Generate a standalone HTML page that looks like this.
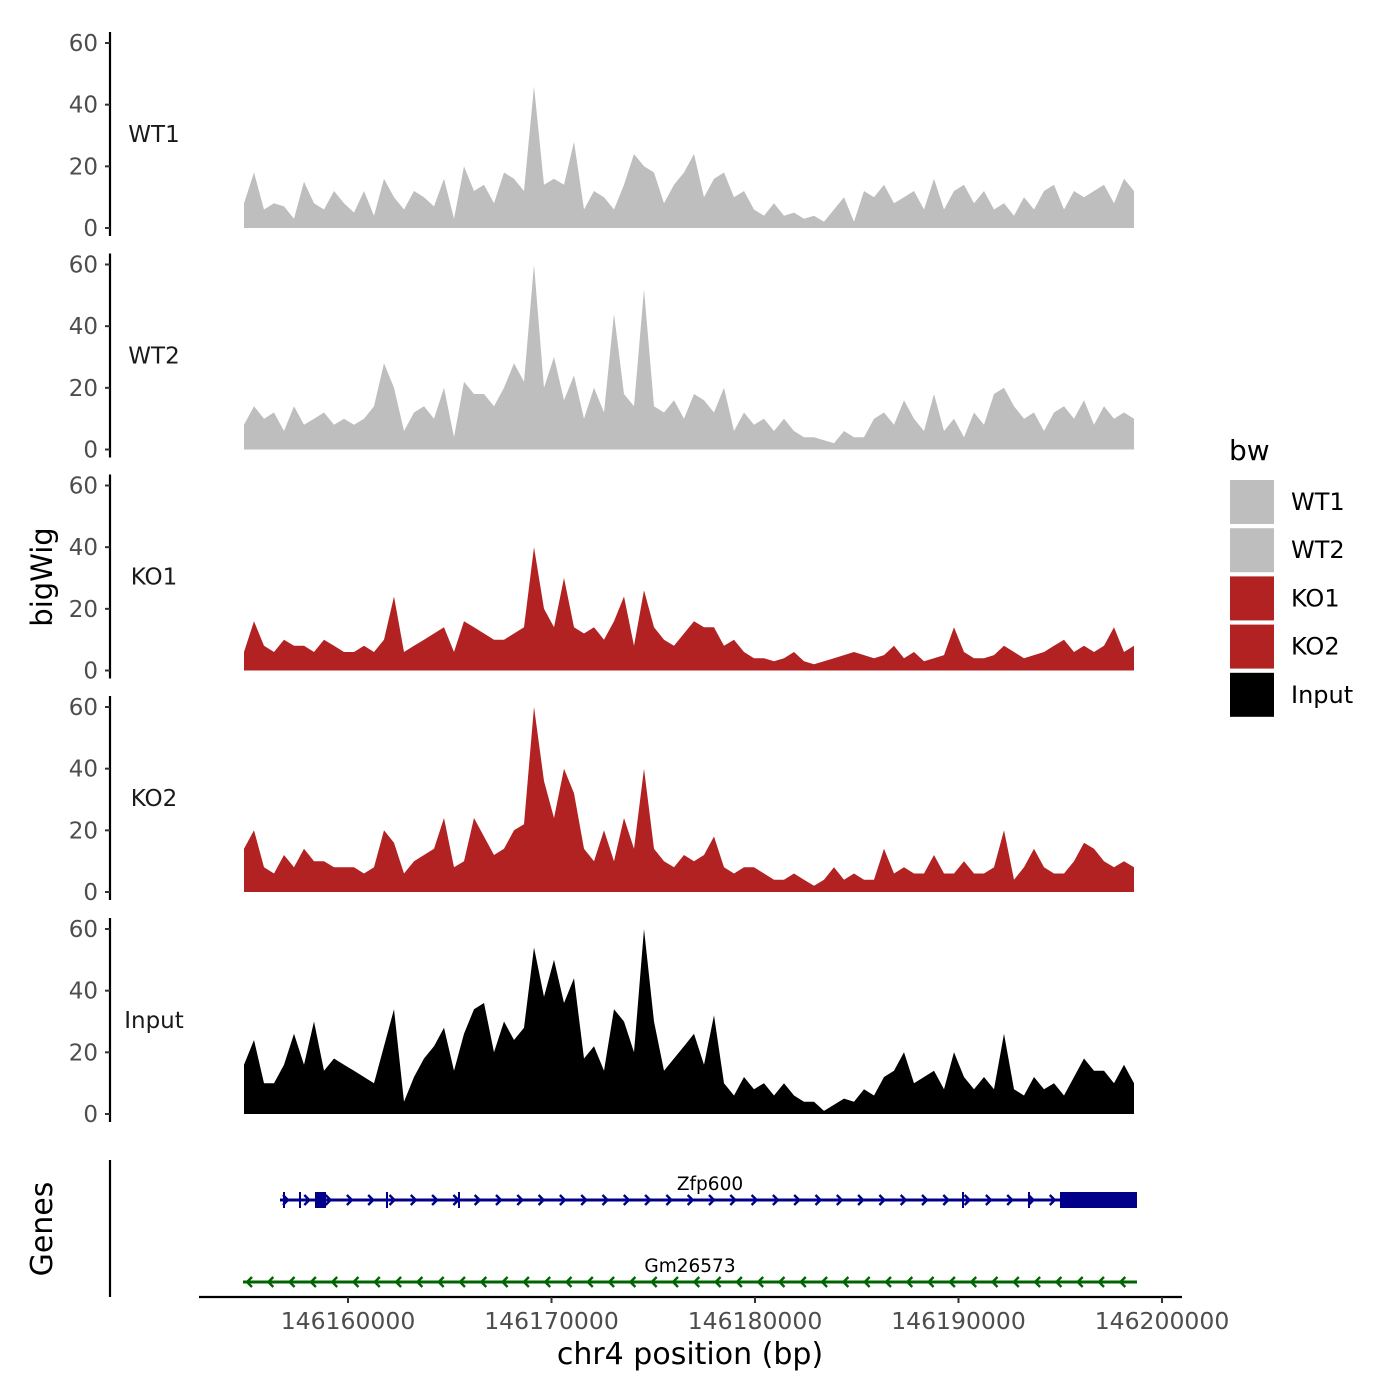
<!DOCTYPE html>
<html><head><meta charset="utf-8"><style>
body{margin:0;background:#fff}
svg{display:block;font-family:"DejaVu Sans","Liberation Sans",sans-serif}
</style></head><body>
<svg id="c" width="1400" height="1400" viewBox="0 0 1400 1400"></svg>
<script>
const seriesNames=["WT1","WT2","KO1","KO2","Input"];
const seriesColors=["#bebebe","#bebebe","#b22222","#b22222","#000000"];
const yTicks=[0,20,40,60];
const xTicks=[146160000,146170000,146180000,146190000,146200000];
const binStart=146154889;
const binSize=491.4;
const wt1=[8,18,6,8,7,3,15,8,6,12,8,5,12,4,16,10,6,12,10,7,16,3,20,12,14,8,18,16,12,46,14,16,14,28,6,12,10,6,14,24,20,18,8,14,18,24,10,16,18,10,12,6,4,8,4,5,3,4,2,6,10,2,12,10,14,8,10,12,6,16,6,12,14,8,12,6,8,4,10,6,12,14,6,12,10,12,14,8,16,12];
const wt2=[8,14,10,12,6,14,8,10,12,8,10,8,10,14,28,20,6,12,14,10,20,4,22,18,18,14,20,28,22,60,20,30,16,24,10,20,12,44,18,14,52,14,12,16,10,18,16,12,20,6,12,8,10,6,10,6,4,4,3,2,6,4,4,10,12,8,16,10,6,18,6,10,4,12,8,18,20,14,10,12,6,12,14,10,16,8,14,10,12,10];
const ko1=[6,16,8,6,10,8,8,6,10,8,6,6,8,6,10,24,6,8,10,12,14,6,16,14,12,10,10,12,14,40,20,14,30,14,12,14,10,16,24,8,26,14,10,8,12,16,14,14,8,10,6,4,4,3,4,6,3,2,3,4,5,6,5,4,5,8,4,6,3,4,5,14,6,4,4,5,8,6,4,5,6,8,10,6,8,6,8,14,6,8];
const ko2=[14,20,8,6,12,8,14,10,10,8,8,8,6,8,20,16,6,10,12,14,24,8,10,24,18,12,14,20,22,60,36,24,40,32,14,10,20,10,24,14,40,14,10,8,12,10,12,18,8,6,8,8,6,4,4,6,4,2,4,8,4,6,4,4,14,6,8,6,6,12,6,6,10,6,6,8,20,4,8,14,8,6,6,10,16,14,10,8,10,8];
const inputSig=[16,24,10,10,16,26,16,30,14,18,16,14,12,10,22,34,4,12,18,22,28,14,26,34,36,20,30,24,28,54,38,50,36,44,18,22,14,34,30,20,60,30,14,18,22,26,16,32,10,6,12,8,10,6,10,6,4,4,1,3,5,4,8,6,12,14,20,10,12,14,8,20,12,8,12,8,26,8,6,12,8,10,6,12,18,14,14,10,16,10];
const allSeries=[wt1,wt2,ko1,ko2,inputSig];
const geneNames=["Zfp600","Gm26573"];
const geneStarts=[146156658,146154840];
const geneEnds=[146198771,146198771];
const zfpExonStarts=[146158378,146194988];
const zfpExonEnds=[146158919,146198771];
const zfpJunctions=[146156855,146157641,146161916,146165455,146190221,146193464];

const NS="http://www.w3.org/2000/svg";
const svg=document.getElementById('c');
function mk(t,a,p){const e=document.createElementNS(NS,t);for(const k in a)e.setAttribute(k,a[k]);(p||svg).appendChild(e);return e;}
const xs=bp=>348+(bp-146160000)*(814/40000);
const panelZero=[228,449.5,670.5,892,1114];
const pxPerUnit=185/60;

seriesNames.forEach((nm,si)=>{
  const g=mk('g',{});
  
  
  const z=panelZero[si];
  const ys=v=>z-v*pxPerUnit;
  const vals=allSeries[si];
  let d='M'+xs(binStart)+','+z;
  vals.forEach((v,i)=>{d+=' L'+xs(binStart+i*binSize).toFixed(1)+','+ys(v).toFixed(1);});
  d+=' L'+xs(binStart+(vals.length-1)*binSize).toFixed(1)+','+z+' Z';
  const a=mk('path',{d:d,fill:seriesColors[si]},g);
  
  
  const ax=mk('line',{x1:110,x2:110,y1:z-196,y2:z+8,stroke:'#000','stroke-width':2.2},g);
  
  
  yTicks.forEach(t=>{
    mk('line',{x1:105,x2:110,y1:ys(t),y2:ys(t),stroke:'#333','stroke-width':2},g);
    const tx=mk('text',{x:98,y:ys(t)+8,'text-anchor':'end','font-size':23,fill:'#4d4d4d'},g);
    tx.textContent=t;
    
    
  });
  const lb=mk('text',{x:154,y:z-86,'text-anchor':'middle','font-size':23,fill:'#1a1a1a'},g);
  lb.textContent=nm;
  
  
});

let t=mk('text',{x:0,y:0,'text-anchor':'middle','font-size':29,transform:'translate(52,577) rotate(-90)'});
t.textContent='bigWig';


t=mk('text',{x:0,y:0,'text-anchor':'middle','font-size':30,transform:'translate(52,1229) rotate(-90)'});
t.textContent='Genes';



mk('line',{x1:110,x2:110,y1:1160,y2:1297,stroke:'#000','stroke-width':2.2});
const xa=mk('line',{x1:199,x2:1182,y1:1297,y2:1297,stroke:'#000','stroke-width':2.2});


xTicks.forEach(v=>{
  mk('line',{x1:xs(v),x2:xs(v),y1:1297,y2:1303,stroke:'#333','stroke-width':2});
  const tx=mk('text',{x:xs(v),y:1329,'text-anchor':'middle','font-size':23.5,fill:'#4d4d4d'});
  tx.textContent=v;
  
  
});
t=mk('text',{x:690,y:1364,'text-anchor':'middle','font-size':30});
t.textContent='chr4 position (bp)';



const geneY=[1200,1282],geneCol=["#00008b","#006400"],geneDir=[1,-1];
geneNames.forEach((gn,gi)=>{
  const g=mk('g',{});
  
  
  const y=geneY[gi],c=geneCol[gi],x1=xs(geneStarts[gi]),x2=xs(geneEnds[gi]);
  mk('line',{x1:x1,x2:x2,y1:y,y2:y,stroke:c,'stroke-width':3},g);
  for(let x=x1+6;x<x2-4;x+=21.3){
    const d=geneDir[gi];
    mk('polyline',{points:`${x-3*d},${y-5} ${x+2*d},${y} ${x-3*d},${y+5}`,fill:'none',stroke:c,'stroke-width':2.4},g);
  }
  const lb=mk('text',{x:gi==0?710:690,y:y-10,'text-anchor':'middle','font-size':18.5},g);
  lb.textContent=gn;
  
  
  if(gi==0){
    zfpExonStarts.forEach((s,i)=>{
      const r=mk('rect',{x:xs(s),y:y-8,width:xs(zfpExonEnds[i])-xs(s),height:16,fill:c},g);
      
      
    });
    zfpJunctions.forEach(j=>mk('line',{x1:xs(j),x2:xs(j),y1:y-8,y2:y+8,stroke:c,'stroke-width':2},g));
  }
});

const lg=mk('g',{});


t=mk('text',{x:1229,y:460,'font-size':28},lg);
t.textContent='bw';


seriesNames.forEach((nm,i)=>{
  const y=480+i*48.2;
  const r=mk('rect',{x:1230,y:y,width:44,height:44,fill:seriesColors[i]},lg);
  
  
  const tx=mk('text',{x:1291,y:y+30,'font-size':24},lg);
  tx.textContent=nm;
  
  
});
</script>
</body></html>
